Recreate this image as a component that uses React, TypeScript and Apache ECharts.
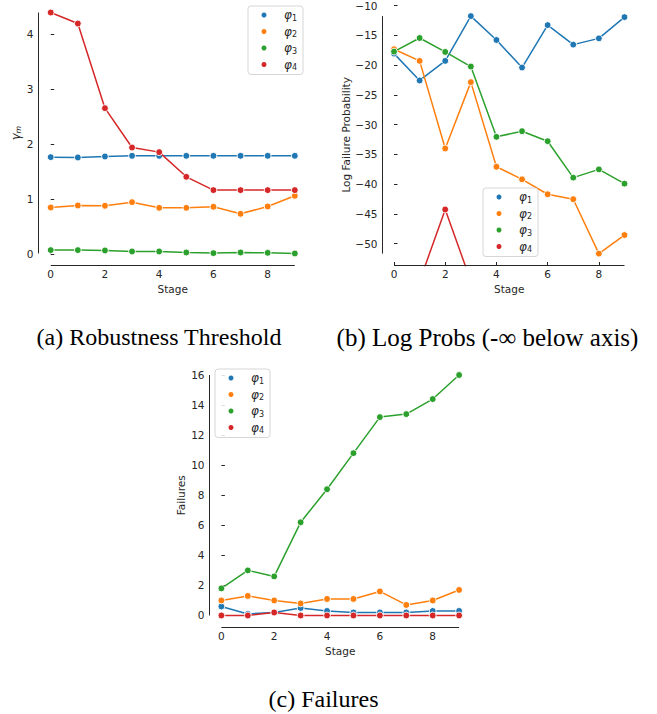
import React, { useEffect, useRef } from 'react';
import * as echarts from 'echarts';

// ---------------- data ----------------
const stages = [0, 1, 2, 3, 4, 5, 6, 7, 8, 9];
const seriesNames = ['φ1', 'φ2', 'φ3', 'φ4'];
const colors = ['#1f77b4', '#ff7f0e', '#2ca02c', '#d62728'];

// (a) Robustness threshold  γm
const gammaPhi1 = [1.764, 1.758, 1.776, 1.788, 1.788, 1.788, 1.788, 1.788, 1.788, 1.788];
const gammaPhi2 = [0.848, 0.885, 0.879, 0.945, 0.842, 0.842, 0.861, 0.733, 0.867, 1.061];
const gammaPhi3 = [0.073, 0.073, 0.067, 0.048, 0.048, 0.03, 0.018, 0.03, 0.024, 0.012];
const gammaPhi4 = [4.394, 4.194, 2.655, 1.939, 1.855, 1.406, 1.164, 1.164, 1.164, 1.164];

// (b) Log failure probability (-inf drawn below the axis)
const NEG_INF = -Infinity;
const logPhi1 = [-18.08, -22.59, -19.3, -11.78, -15.79, -20.42, -13.29, -16.57, -15.52, -11.95];
const logPhi2 = [-17.35, -19.3, -34.01, -22.87, -37.08, -39.19, -41.7, -42.53, -51.67, -48.55];
const logPhi3 = [-17.74, -15.46, -17.8, -20.25, -32.06, -31.11, -32.79, -38.91, -37.52, -39.92];
const logPhi4 = [NEG_INF, NEG_INF, -44.26, NEG_INF, NEG_INF, NEG_INF, NEG_INF, NEG_INF, NEG_INF, NEG_INF];
const NEG_INF_DRAWN_AT = -56.3;

// (c) Failures
const failPhi1 = [0.6, 0.1, 0.2, 0.5, 0.3, 0.2, 0.2, 0.2, 0.3, 0.3];
const failPhi2 = [1.0, 1.3, 1.0, 0.8, 1.1, 1.1, 1.6, 0.7, 1.0, 1.7];
const failPhi3 = [1.8, 3.0, 2.6, 6.2, 8.4, 10.8, 13.2, 13.4, 14.4, 16.0];
const failPhi4 = [0, 0, 0.2, 0, 0, 0, 0, 0, 0, 0];

// tick labels
const xTicks = [0, 2, 4, 6, 8];
const gammaTicks = [0, 1, 2, 3, 4];
const logTicks = [-50, -45, -40, -35, -30, -25, -20, -15, -10];
const failTicks = [0, 2, 4, 6, 8, 10, 12, 14, 16];

const captions = ['(a) Robustness Threshold', '(b) Log Probs (-∞ below axis)', '(c) Failures'];

// ---------------- layout / style ----------------
const INK = '#262626';
const FONT = 'DejaVu Sans';
const FS = 10.5;

const panels = [
  {
    values: [gammaPhi1, gammaPhi2, gammaPhi3, gammaPhi4],
    yTicks: gammaTicks,
    yName: '{g|γ}{s|m}',
    yNameGap: 15,
    grid: { left: 38.5, top: 0.5, width: 268.5, height: 265 },
    legend: { left: 248, top: 6 },
    caption: { x: 159, y: 337, size: 24 },
  },
  {
    values: [logPhi1, logPhi2, logPhi3, logPhi4],
    yTicks: logTicks,
    yName: 'Log Failure Probability',
    yNameGap: 31,
    grid: { left: 382.5, top: 3.5, width: 253.5, height: 262 },
    legend: { left: 483, top: 188 },
    caption: { x: 487.5, y: 337, size: 25 },
  },
  {
    values: [failPhi1, failPhi2, failPhi3, failPhi4],
    yTicks: failTicks,
    yName: 'Failures',
    yNameGap: 23,
    grid: { left: 209.5, top: 363, width: 261.5, height: 264.5 },
    legend: { left: 215, top: 369 },
    caption: { x: 323.5, y: 699, size: 24 },
  },
];

const richName = {
  g: { fontStyle: 'italic', fontSize: 11.5, lineHeight: 14, fontFamily: FONT, color: INK },
  s: { fontStyle: 'italic', fontSize: 7.8, lineHeight: 7.8, verticalAlign: 'bottom', fontFamily: FONT, color: INK },
};
const richLegend = {
  p: { fontStyle: 'italic', fontSize: 12, lineHeight: 14, fontFamily: FONT, color: INK, padding: [0, 0, 0, 11.5] },
  s: { fontSize: 8, lineHeight: 8, verticalAlign: 'bottom', fontFamily: FONT, color: INK },
};

function buildOption() {
  const grid: any[] = [];
  const xAxis: any[] = [];
  const yAxis: any[] = [];
  const series: any[] = [];
  const legend: any[] = [];
  const graphic: any[] = [];

  panels.forEach((p, i) => {
    const finite = p.values.flat().filter((v) => Number.isFinite(v));
    const dMin = Math.min(...finite);
    const dMax = Math.max(...finite);
    const yPad = (dMax - dMin) * 0.05;
    const yMin = dMin - yPad;
    const yMax = dMax + yPad;
    const sMin = stages[0];
    const sMax = stages[stages.length - 1];
    const xPad = (sMax - sMin) * 0.05;
    const xMin = sMin - xPad;
    const xMax = sMax + xPad;

    grid.push({ ...p.grid, containLabel: false });

    xAxis.push({
      gridIndex: i,
      type: 'value',
      min: xMin,
      max: xMax,
      axisLine: { show: false },
      splitLine: { show: false },
      axisTick: { show: true, inside: true, length: 3.5, customValues: xTicks, lineStyle: { color: INK, width: 1 } },
      axisLabel: { show: true, customValues: xTicks, margin: 3, fontSize: FS, color: INK, fontFamily: FONT },
      name: 'Stage',
      nameLocation: 'middle',
      nameGap: 18,
      nameTextStyle: { fontSize: FS, color: INK, fontFamily: FONT },
    });

    yAxis.push({
      gridIndex: i,
      type: 'value',
      min: yMin,
      max: yMax,
      axisLine: { show: false },
      splitLine: { show: false },
      axisTick: { show: true, inside: true, length: 3.5, customValues: p.yTicks, lineStyle: { color: INK, width: 1 } },
      axisLabel: {
        show: true,
        customValues: p.yTicks,
        margin: 5,
        fontSize: FS,
        color: INK,
        fontFamily: FONT,
        formatter: (v: number) => String(v).replace('-', '\u2212'),
      },
      name: p.yName,
      nameLocation: 'middle',
      nameRotate: 90,
      nameGap: p.yNameGap,
      nameTextStyle: { fontSize: FS, color: INK, fontFamily: FONT, rich: richName },
    });

    // spines (x: from first to last stage; y: from data min to data max)
    series.push({
      name: 'x-spine-' + i,
      type: 'line',
      xAxisIndex: i,
      yAxisIndex: i,
      data: [[sMin, yMin], [sMax, yMin]],
      symbol: 'none',
      clip: false,
      silent: true,
      z: 5,
      lineStyle: { color: INK, width: 1 },
    });
    series.push({
      name: 'y-spine-' + i,
      type: 'line',
      xAxisIndex: i,
      yAxisIndex: i,
      data: [[xMin, dMin], [xMin, dMax]],
      symbol: 'none',
      clip: false,
      silent: true,
      z: 5,
      lineStyle: { color: INK, width: 1 },
    });

    p.values.forEach((vals, k) => {
      series.push({
        name: seriesNames[k],
        type: 'line',
        xAxisIndex: i,
        yAxisIndex: i,
        data: stages.map((s, j) => [s, Number.isFinite(vals[j]) ? vals[j] : NEG_INF_DRAWN_AT]),
        symbol: 'circle',
        symbolSize: 6.8,
        showSymbol: true,
        clip: true,
        color: colors[k],
        itemStyle: { color: colors[k], borderColor: '#ffffff', borderWidth: 0.9 },
        lineStyle: { color: colors[k], width: 1.5 },
        z: 2 + k * 0.01,
      });
    });

    legend.push({
      data: seriesNames,
      left: p.legend.left,
      top: p.legend.top,
      orient: 'vertical',
      icon: 'circle',
      itemWidth: 7,
      itemHeight: 7,
      itemGap: 3.5,
      padding: [3, 6, 3, 11.5],
      backgroundColor: 'rgba(255,255,255,0.85)',
      borderColor: '#d6d6d6',
      borderWidth: 1,
      borderRadius: 3,
      selectedMode: false,
      formatter: (n: string) => `{p|φ}{s|${n.slice(1)}}`,
      textStyle: { fontFamily: FONT, fontSize: FS, color: INK, rich: richLegend },
      z: 10,
    });

    graphic.push({
      type: 'text',
      x: p.caption.x,
      y: p.caption.y,
      silent: true,
      style: {
        text: captions[i],
        fontFamily: "'Liberation Serif', 'Times New Roman', serif",
        fontSize: p.caption.size,
        fill: '#000000',
        align: 'center',
        verticalAlign: 'middle',
      },
    });
  });

  return {
    animation: false,
    backgroundColor: '#ffffff',
    grid,
    xAxis,
    yAxis,
    series,
    legend,
    graphic,
  };
}

export default function App() {
  const ref = useRef<HTMLDivElement>(null);
  useEffect(() => {
    if (!ref.current) return;
    const chart = echarts.init(ref.current, undefined, { renderer: 'svg' });
    chart.setOption(buildOption() as any);
    return () => chart.dispose();
  }, []);
  return (
    <div
      ref={ref}
      style={{ position: 'absolute', left: 0, top: 0, width: 657, height: 714, background: '#fff' }}
    />
  );
}
